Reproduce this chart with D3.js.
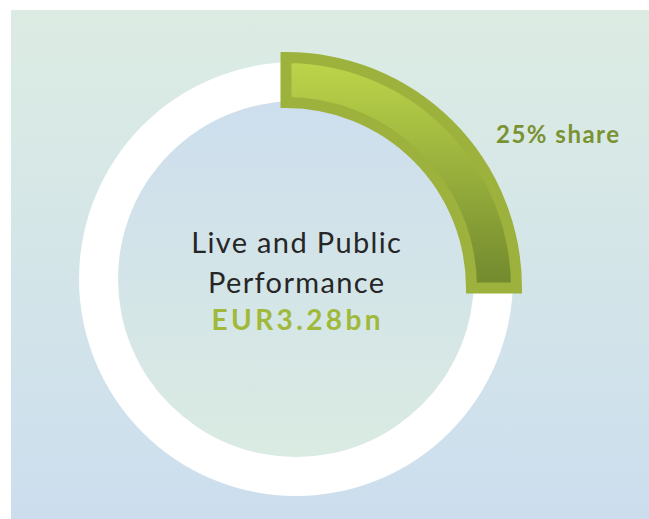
<!DOCTYPE html>
<html>
<head>
<meta charset="utf-8">
<script src="https://cdn.jsdelivr.net/npm/d3@7"></script>
<style>
  body { margin: 0; background: #fff; }
  svg { display: block; }
</style>
</head>
<body>
<div id="chart"></div>
<script>
// Data
const categories = ["Live and Public Performance", "Other"];
const shares = [25, 75];
const titleLines = ["Live and Public", "Performance"];
const valueLabel = "EUR3.28bn";
const shareLabel = "25% share";

const width = 649;
const height = 519;

const svg = d3.select("#chart")
    .append("svg")
    .attr("width", width)
    .attr("height", height);

const defs = svg.append("defs");

// background gradient (green top -> blue bottom)
const bgGrad = defs.append("linearGradient")
    .attr("id", "bgGrad")
    .attr("x1", 0).attr("y1", 0).attr("x2", 0).attr("y2", 1);
bgGrad.append("stop").attr("offset", "0%").attr("stop-color", "#dcece3");
bgGrad.append("stop").attr("offset", "100%").attr("stop-color", "#ccdeee");

// inner disc gradient (blue top -> green bottom)
const discGrad = defs.append("linearGradient")
    .attr("id", "discGrad")
    .attr("x1", 0).attr("y1", 0).attr("x2", 0).attr("y2", 1);
discGrad.append("stop").attr("offset", "0%").attr("stop-color", "#cddeee");
discGrad.append("stop").attr("offset", "100%").attr("stop-color", "#daebe2");

svg.append("rect")
    .attr("x", 11)
    .attr("y", 10)
    .attr("width", width - 11)
    .attr("height", height - 10)
    .attr("fill", "url(#bgGrad)");

// ring geometry
const cx = 296, cy = 279;
const ringOuter = 217, ringInner = 178;

const g = svg.append("g")
    .attr("transform", `translate(${cx}, ${cy})`);

g.append("circle")
    .attr("r", ringInner)
    .attr("fill", "url(#discGrad)");

const ringArc = d3.arc()
    .innerRadius(ringInner)
    .outerRadius(ringOuter)
    .startAngle(0)
    .endAngle(2 * Math.PI);

g.append("path")
    .attr("d", ringArc())
    .attr("fill", "#ffffff");

// highlighted slice (offset a little down-left like the original)
const pie = d3.pie().sort(null).value(d => d);
const arcs = pie(shares);

const sliceArc = d3.arc()
    .innerRadius(185.5)
    .outerRadius(230.5);

const sx = cx - 10, sy = cy + 9;

const sliceGrad = defs.append("linearGradient")
    .attr("id", "sliceGrad")
    .attr("gradientUnits", "userSpaceOnUse")
    .attr("x1", 0).attr("y1", 60 - sy).attr("x2", 0).attr("y2", 280 - sy);
sliceGrad.append("stop").attr("offset", "0%").attr("stop-color", "#bdd54a");
sliceGrad.append("stop").attr("offset", "100%").attr("stop-color", "#748b2f");

const slice = svg.append("g")
    .attr("transform", `translate(${sx}, ${sy})`);

slice.append("path")
    .datum(arcs[0])
    .attr("d", sliceArc)
    .attr("fill", "url(#sliceGrad)")
    .attr("stroke", "#9db23c")
    .attr("stroke-width", 11)
    .attr("stroke-linejoin", "miter")
    .append("title").text(`${categories[0]}: ${shares[0]}%`);

// center labels
const font = "Lato, 'Open Sans', sans-serif";

g.selectAll("text.title")
    .data(titleLines)
    .enter()
    .append("text")
    .attr("class", "title")
    .attr("x", 0.7)
    .attr("y", (d, i) => -26 + i * 40)
    .attr("text-anchor", "middle")
    .attr("font-family", font)
    .attr("font-size", 29)
    .attr("letter-spacing", 1.35)
    .attr("fill", "#262626")
    .text(d => d);

g.append("text")
    .attr("x", 1.7)
    .attr("y", 51)
    .attr("text-anchor", "middle")
    .attr("font-family", font)
    .attr("font-weight", "bold")
    .attr("font-size", 28)
    .attr("letter-spacing", 3.4)
    .attr("fill", "#a1b93b")
    .text(valueLabel);

svg.append("text")
    .attr("x", 496)
    .attr("y", 143)
    .attr("font-family", font)
    .attr("font-weight", "bold")
    .attr("font-size", 24)
    .attr("letter-spacing", 1.5)
    .attr("fill", "#7a9232")
    .text(shareLabel);
</script>
</body>
</html>
